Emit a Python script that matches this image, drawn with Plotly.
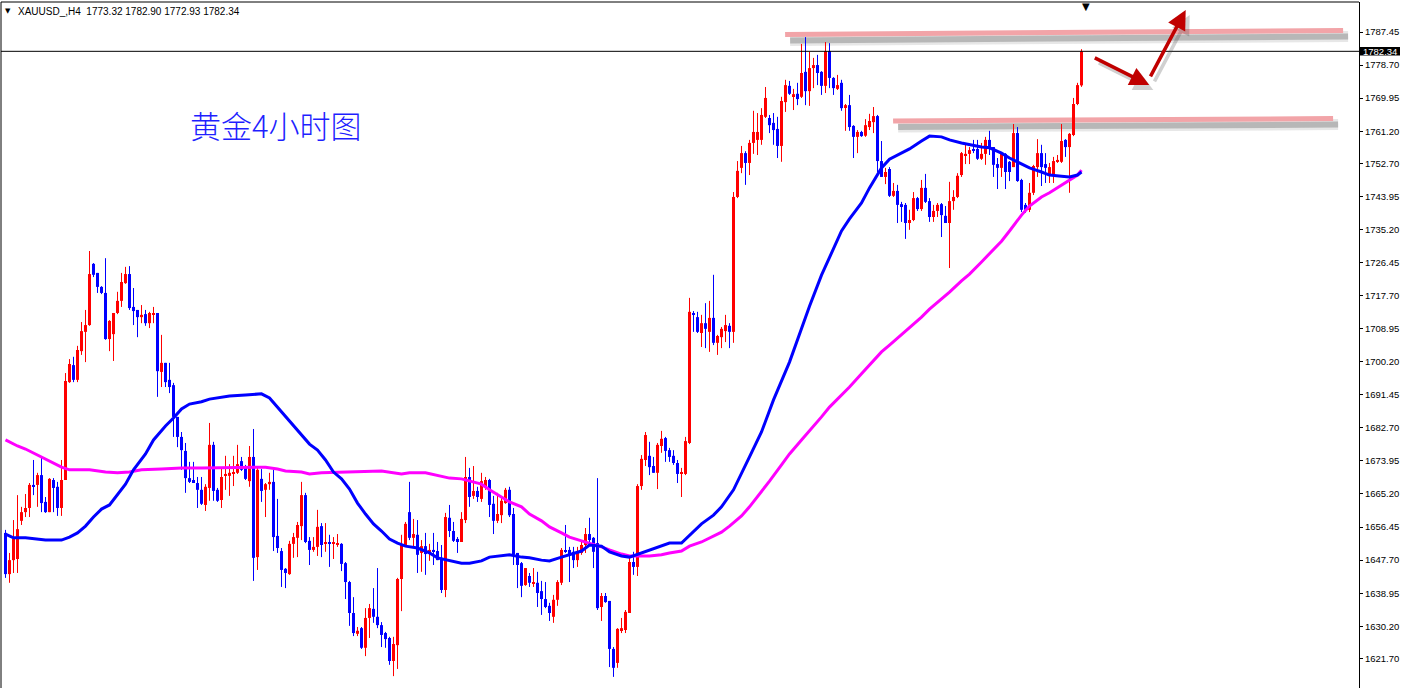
import plotly.graph_objects as go

# ---------------- data (XAUUSD H4) ----------------
opens = [
    1654.9, 1644.0, 1647.7, 1648.0, 1658.1, 1660.4, 1661.5, 1667.6, 1667.6, 1670.2,
    1663.1, 1660.4, 1668.9, 1667.1, 1661.5, 1668.9, 1694.8, 1699.3, 1695.4, 1703.0,
    1708.1, 1709.9, 1726.1, 1723.7, 1720.0, 1718.4, 1706.2, 1707.5, 1713.1, 1716.3,
    1721.0, 1723.4, 1714.7, 1713.9, 1712.0, 1712.8, 1710.4, 1712.8, 1713.1, 1697.5,
    1699.9, 1695.4, 1694.0, 1685.6, 1680.3, 1676.6, 1669.4, 1668.9, 1668.1, 1666.3,
    1662.3, 1666.8, 1678.2, 1666.3, 1663.6, 1670.0, 1670.0, 1670.5, 1670.8, 1673.9,
    1672.3, 1668.6, 1675.0, 1648.5, 1669.2, 1666.3, 1667.8, 1668.4, 1654.1, 1650.1,
    1645.4, 1644.0, 1652.0, 1653.6, 1656.7, 1664.9, 1652.8, 1650.4, 1651.2, 1656.7,
    1652.0, 1652.2, 1652.0, 1651.7, 1652.0, 1646.9, 1641.9, 1633.7, 1628.2, 1629.7,
    1624.5, 1632.4, 1634.8, 1632.7, 1630.5, 1628.4, 1627.1, 1621.0, 1625.2, 1642.7,
    1651.7, 1660.4, 1653.6, 1654.4, 1649.6, 1651.4, 1649.9, 1650.4, 1650.1, 1648.3,
    1639.8, 1658.9, 1655.4, 1653.3, 1652.5, 1658.3, 1669.7, 1664.7, 1666.0, 1663.9,
    1666.8, 1668.9, 1662.6, 1658.1, 1659.6, 1662.8, 1666.3, 1659.9, 1649.6, 1646.9,
    1641.1, 1643.5, 1641.4, 1641.7, 1639.5, 1637.4, 1635.6, 1632.7, 1637.2, 1641.7,
    1650.1, 1650.4, 1649.9, 1647.7, 1649.6, 1651.7, 1654.6, 1653.6, 1652.2, 1635.3,
    1638.2, 1636.9, 1624.2, 1620.5, 1629.2, 1629.2, 1633.7, 1647.2, 1645.9, 1667.3,
    1674.2, 1675.3, 1672.6, 1670.8, 1677.9, 1680.0, 1676.8, 1675.3, 1673.4, 1670.5,
    1670.5, 1678.7, 1713.1, 1712.0, 1707.8, 1710.4, 1708.1, 1711.8, 1705.2, 1706.7,
    1708.3, 1709.7, 1708.1, 1743.8, 1751.5, 1755.4, 1752.8, 1758.1, 1758.9, 1758.9,
    1765.0, 1764.7, 1763.4, 1761.8, 1757.3, 1768.9, 1773.2, 1770.5, 1771.1, 1770.3,
    1776.9, 1771.8, 1777.9, 1778.7, 1776.9, 1773.2, 1782.4, 1775.3, 1772.4, 1774.0,
    1767.6, 1768.1, 1762.6, 1759.7, 1761.0, 1760.0, 1762.3, 1763.6, 1765.2, 1753.3,
    1749.1, 1751.2, 1744.1, 1745.4, 1741.9, 1741.7, 1736.9, 1737.7, 1743.5, 1740.6,
    1746.2, 1742.7, 1738.5, 1740.1, 1741.9, 1738.8, 1736.9, 1742.7, 1743.8, 1749.6,
    1754.9, 1755.2, 1756.2, 1756.5, 1753.9, 1755.2, 1758.9, 1757.0, 1752.5, 1751.5,
    1755.2, 1753.1, 1751.7, 1760.7, 1748.3, 1741.7, 1740.4, 1744.9, 1751.7, 1755.4,
    1752.5, 1749.4, 1749.4, 1753.1, 1753.1, 1758.9, 1757.0, 1760.2, 1768.4, 1773.32,
]
highs = [
    1655.7, 1649.6, 1658.3, 1664.9, 1661.8, 1665.2, 1668.1, 1674.2, 1670.8, 1675.0,
    1664.4, 1669.4, 1669.4, 1668.4, 1674.2, 1697.2, 1700.9, 1701.5, 1704.4, 1710.7,
    1713.9, 1729.5, 1726.3, 1723.7, 1720.2, 1727.6, 1711.2, 1713.1, 1718.7, 1723.7,
    1725.3, 1725.5, 1719.7, 1713.9, 1715.2, 1713.9, 1713.4, 1714.7, 1713.1, 1707.3,
    1699.9, 1699.9, 1694.6, 1685.6, 1681.6, 1678.7, 1673.7, 1673.7, 1669.7, 1669.7,
    1667.8, 1684.0, 1679.0, 1666.8, 1672.3, 1675.3, 1673.1, 1675.3, 1678.2, 1675.0,
    1672.9, 1677.9, 1682.4, 1672.3, 1671.8, 1668.1, 1670.8, 1671.6, 1663.9, 1650.9,
    1645.6, 1652.8, 1654.9, 1657.8, 1668.4, 1665.5, 1653.8, 1653.8, 1661.0, 1657.5,
    1657.5, 1654.4, 1653.8, 1654.6, 1652.2, 1647.2, 1642.2, 1637.9, 1630.0, 1630.0,
    1635.0, 1636.1, 1640.3, 1645.6, 1631.3, 1628.7, 1627.4, 1627.4, 1643.0, 1654.4,
    1657.8, 1668.4, 1658.6, 1658.3, 1653.0, 1654.9, 1652.0, 1654.9, 1652.5, 1651.7,
    1660.2, 1662.3, 1657.8, 1653.8, 1660.4, 1675.0, 1672.1, 1672.6, 1667.1, 1670.8,
    1669.7, 1669.2, 1664.7, 1665.5, 1664.4, 1666.8, 1667.1, 1661.5, 1649.6, 1647.2,
    1645.6, 1644.3, 1645.6, 1644.6, 1642.2, 1641.9, 1636.4, 1638.5, 1642.4, 1650.9,
    1657.0, 1651.2, 1651.2, 1651.2, 1653.0, 1656.2, 1658.9, 1653.8, 1669.4, 1639.0,
    1639.0, 1636.9, 1624.7, 1629.7, 1632.4, 1634.5, 1648.3, 1649.9, 1667.8, 1675.5,
    1681.6, 1679.0, 1675.0, 1678.7, 1681.9, 1680.3, 1677.4, 1676.8, 1674.2, 1672.1,
    1680.3, 1717.1, 1713.6, 1713.4, 1712.6, 1715.7, 1716.3, 1723.2, 1707.3, 1709.4,
    1712.6, 1710.4, 1745.1, 1753.3, 1757.3, 1755.9, 1758.9, 1766.6, 1766.0, 1767.3,
    1772.9, 1765.5, 1766.0, 1765.0, 1770.3, 1774.8, 1774.5, 1772.4, 1774.0, 1784.3,
    1786.1, 1782.2, 1780.6, 1781.4, 1777.1, 1784.8, 1784.5, 1775.5, 1776.1, 1774.8,
    1768.4, 1770.8, 1762.8, 1761.5, 1761.3, 1764.4, 1765.8, 1767.6, 1765.5, 1758.6,
    1751.5, 1751.7, 1747.5, 1747.0, 1742.5, 1742.2, 1740.4, 1745.1, 1743.8, 1748.3,
    1749.9, 1743.5, 1741.7, 1742.2, 1742.2, 1741.4, 1747.8, 1745.6, 1750.1, 1755.7,
    1757.6, 1757.0, 1758.9, 1758.9, 1758.1, 1759.7, 1761.3, 1757.0, 1754.1, 1755.7,
    1755.4, 1753.3, 1763.1, 1762.3, 1748.6, 1742.2, 1747.5, 1752.3, 1759.1, 1757.6,
    1755.4, 1752.8, 1754.4, 1754.9, 1763.1, 1759.1, 1760.7, 1770.0, 1774.0, 1782.90,
]
lows = [
    1643.0, 1641.7, 1644.3, 1644.3, 1657.0, 1659.1, 1659.1, 1664.9, 1661.8, 1660.4,
    1660.2, 1660.4, 1660.4, 1659.4, 1659.4, 1668.9, 1694.6, 1694.8, 1694.8, 1702.0,
    1700.1, 1709.7, 1722.6, 1718.4, 1718.1, 1706.0, 1703.0, 1700.4, 1712.8, 1714.7,
    1720.8, 1713.9, 1709.9, 1706.7, 1710.4, 1709.7, 1709.1, 1710.4, 1690.9, 1693.5,
    1693.5, 1691.9, 1680.3, 1677.6, 1671.6, 1665.5, 1668.1, 1668.1, 1661.5, 1662.3,
    1660.7, 1663.4, 1663.4, 1663.1, 1661.5, 1666.3, 1664.7, 1667.3, 1670.5, 1671.3,
    1668.9, 1667.1, 1642.2, 1645.1, 1663.1, 1659.1, 1666.3, 1650.1, 1649.6, 1640.6,
    1640.3, 1643.8, 1648.3, 1648.5, 1653.0, 1652.2, 1646.4, 1649.9, 1648.8, 1648.5,
    1649.9, 1645.9, 1648.0, 1651.2, 1644.8, 1637.4, 1630.3, 1627.6, 1627.6, 1624.2,
    1622.3, 1627.1, 1631.1, 1629.7, 1624.7, 1624.5, 1620.0, 1617.0, 1618.9, 1634.2,
    1651.2, 1653.0, 1651.2, 1644.3, 1644.6, 1643.8, 1647.5, 1646.4, 1647.7, 1639.0,
    1637.9, 1653.8, 1652.5, 1649.6, 1652.5, 1657.5, 1661.8, 1663.9, 1663.1, 1663.1,
    1666.3, 1659.1, 1654.6, 1657.5, 1657.5, 1662.6, 1659.1, 1646.4, 1640.3, 1637.9,
    1640.9, 1640.6, 1640.6, 1635.3, 1633.2, 1635.0, 1631.6, 1631.1, 1635.6, 1641.1,
    1649.6, 1641.9, 1645.6, 1645.9, 1649.1, 1649.6, 1651.7, 1645.6, 1634.5, 1631.6,
    1636.4, 1619.4, 1616.8, 1619.2, 1628.4, 1628.4, 1633.7, 1643.8, 1643.5, 1666.3,
    1672.6, 1670.2, 1670.8, 1666.5, 1676.1, 1673.7, 1673.7, 1672.9, 1668.1, 1664.4,
    1670.2, 1678.4, 1708.1, 1707.8, 1704.1, 1703.8, 1702.8, 1704.6, 1702.0, 1703.8,
    1705.4, 1703.8, 1705.2, 1743.5, 1750.1, 1747.0, 1749.6, 1755.2, 1754.9, 1757.6,
    1764.7, 1760.7, 1757.6, 1754.1, 1753.1, 1766.3, 1770.8, 1766.8, 1768.1, 1770.0,
    1768.1, 1767.9, 1772.6, 1773.4, 1770.8, 1771.3, 1772.6, 1770.8, 1772.1, 1766.6,
    1761.3, 1761.3, 1754.1, 1755.4, 1759.7, 1759.7, 1761.5, 1760.7, 1750.4, 1749.1,
    1747.2, 1743.8, 1743.8, 1736.9, 1737.2, 1732.7, 1735.1, 1737.4, 1740.1, 1740.1,
    1742.2, 1737.2, 1737.2, 1738.5, 1733.2, 1736.9, 1725.0, 1740.4, 1743.5, 1749.1,
    1752.5, 1752.5, 1755.4, 1753.6, 1753.6, 1752.3, 1754.9, 1749.1, 1745.9, 1749.1,
    1745.9, 1748.0, 1751.7, 1747.8, 1739.8, 1739.6, 1739.8, 1744.3, 1749.1, 1746.7,
    1747.5, 1747.5, 1747.5, 1752.8, 1752.8, 1754.4, 1744.9, 1759.9, 1768.1, 1772.93,
]
closes = [
    1644.0, 1647.7, 1653.3, 1655.9, 1660.4, 1661.5, 1667.6, 1667.3, 1670.2, 1662.8,
    1660.4, 1669.2, 1666.8, 1661.5, 1668.9, 1695.1, 1699.6, 1695.4, 1703.3, 1708.3,
    1709.9, 1723.4, 1723.2, 1720.0, 1718.4, 1706.2, 1711.0, 1713.1, 1716.3, 1721.3,
    1723.4, 1714.4, 1713.6, 1712.0, 1712.6, 1710.4, 1713.1, 1713.1, 1697.7, 1699.9,
    1694.8, 1693.5, 1685.6, 1680.3, 1676.8, 1669.4, 1668.4, 1668.1, 1666.3, 1662.6,
    1667.1, 1678.2, 1666.0, 1663.4, 1669.7, 1670.5, 1670.8, 1671.0, 1673.1, 1671.6,
    1669.2, 1675.0, 1648.3, 1671.6, 1666.0, 1667.8, 1668.4, 1653.8, 1650.9, 1645.1,
    1644.3, 1652.0, 1653.8, 1657.0, 1664.9, 1652.5, 1650.4, 1651.2, 1656.5, 1651.7,
    1652.2, 1652.0, 1652.2, 1652.2, 1646.7, 1641.9, 1633.7, 1628.4, 1629.0, 1624.5,
    1632.4, 1635.0, 1632.7, 1630.5, 1627.9, 1626.8, 1621.0, 1625.5, 1642.7, 1651.7,
    1657.3, 1653.6, 1654.6, 1649.1, 1651.4, 1649.3, 1650.4, 1649.9, 1647.7, 1639.8,
    1659.1, 1655.4, 1652.8, 1652.5, 1658.6, 1669.7, 1664.4, 1666.0, 1664.4, 1668.6,
    1668.9, 1662.3, 1658.1, 1659.9, 1663.4, 1666.3, 1659.6, 1649.1, 1646.4, 1640.9,
    1645.6, 1641.7, 1641.7, 1639.0, 1637.4, 1635.3, 1633.7, 1637.2, 1641.9, 1650.4,
    1649.9, 1649.1, 1647.7, 1649.6, 1651.7, 1654.6, 1653.0, 1649.9, 1635.0, 1638.2,
    1636.6, 1624.2, 1619.2, 1629.5, 1629.7, 1634.0, 1647.2, 1645.9, 1667.3, 1674.5,
    1680.8, 1672.3, 1670.8, 1678.2, 1679.8, 1676.6, 1675.0, 1673.4, 1670.5, 1670.8,
    1679.2, 1713.4, 1712.6, 1708.1, 1710.4, 1708.9, 1711.8, 1705.2, 1707.0, 1708.9,
    1709.9, 1708.1, 1743.8, 1750.7, 1755.4, 1752.8, 1758.1, 1761.0, 1761.0, 1765.5,
    1770.0, 1762.8, 1761.5, 1757.3, 1769.2, 1773.4, 1771.1, 1771.0, 1769.7, 1776.6,
    1771.8, 1777.9, 1778.7, 1776.6, 1773.2, 1782.4, 1775.3, 1772.6, 1773.4, 1767.3,
    1768.1, 1762.3, 1759.7, 1761.0, 1759.9, 1762.8, 1763.9, 1765.2, 1753.3, 1749.1,
    1750.4, 1744.1, 1745.4, 1741.7, 1741.4, 1736.9, 1737.7, 1743.5, 1740.6, 1746.2,
    1742.5, 1738.5, 1740.1, 1741.7, 1739.0, 1736.9, 1742.7, 1743.8, 1749.4, 1755.4,
    1755.2, 1756.2, 1756.0, 1753.9, 1755.2, 1758.9, 1757.0, 1752.3, 1751.5, 1755.2,
    1750.4, 1750.4, 1760.7, 1748.0, 1740.4, 1740.4, 1744.9, 1752.0, 1755.4, 1751.7,
    1751.5, 1751.7, 1753.3, 1753.6, 1758.6, 1757.0, 1760.5, 1768.4, 1773.4, 1782.34,
]

# moving averages, sampled at bar indices
ma_fast_idx = [0, 2, 5, 10, 14, 16, 18, 20, 22, 24, 26, 28, 30, 32, 35, 37, 40, 42, 44, 46,
               49, 51, 54, 56, 60, 64, 66, 68, 70, 72, 74, 76, 78, 80, 82, 84, 86, 88, 90, 92,
               94, 96, 98, 100, 103, 106, 108, 111, 114, 116, 119, 121, 124, 126, 129, 131, 134, 136, 139, 141,
               144, 146, 149, 151, 154, 156, 159, 161, 164, 166, 169, 172, 174, 177, 179, 182, 184, 186, 189, 192,
               196, 199, 201, 204, 206, 209, 211, 214, 216, 219, 221, 224, 226, 229, 231, 234, 236, 239, 241, 244,
               246, 249, 251, 254, 256, 259, 261, 264, 266, 268, 269]
ma_fast = [1654.6, 1653.6, 1653.6, 1653.0, 1653.0, 1653.8, 1654.9, 1656.7, 1659.1, 1661.2,
           1662.3, 1664.9, 1667.8, 1671.6, 1675.8, 1679.5, 1683.2, 1685.3, 1687.7, 1689.0,
           1689.6, 1690.3, 1690.9, 1691.1, 1691.4, 1691.7, 1690.6, 1688.2, 1685.8, 1683.5,
           1681.1, 1678.4, 1676.8, 1674.2, 1671.0, 1669.2, 1666.5, 1662.8, 1659.9, 1657.3,
           1655.4, 1653.3, 1652.2, 1651.4, 1650.9, 1649.6, 1648.3, 1647.5, 1646.9, 1646.9,
           1647.5, 1648.5, 1648.8, 1649.1, 1648.5, 1648.3, 1647.7, 1647.5, 1648.5, 1649.1,
           1650.1, 1651.7, 1651.4, 1649.9, 1648.8, 1648.5, 1649.6, 1650.4, 1651.4, 1652.2,
           1652.2, 1655.1, 1657.3, 1659.6, 1661.8, 1666.3, 1670.5, 1675.0, 1681.6, 1690.1,
           1700.1, 1708.9, 1714.9, 1723.1, 1727.6, 1734.8, 1738.0, 1742.2, 1746.2, 1751.5,
           1753.8, 1755.4, 1756.5, 1758.6, 1759.9, 1759.7, 1758.9, 1758.1, 1757.6, 1757.0,
           1756.8, 1755.4, 1754.1, 1752.5, 1751.5, 1750.4, 1749.6, 1749.3, 1749.1, 1749.6, 1750.4]

ma_slow_idx = [0, 3, 5, 8, 11, 14, 16, 21, 25, 28, 31, 34, 39, 44, 49, 56, 61, 65, 68, 70,
               74, 76, 79, 84, 94, 99, 101, 105, 108, 111, 114, 116, 119, 121, 124, 126, 129, 131, 134, 136,
               139, 141, 144, 146, 149, 151, 154, 156, 159, 161, 164, 166, 169, 171, 174, 176, 179, 181, 184, 186,
               189, 191, 194, 196, 199, 201, 204, 206, 209, 211, 214, 216, 219, 221, 224, 226, 229, 231, 234, 236,
               239, 241, 244, 246, 249, 251, 254, 256, 259, 261, 264, 266, 268, 269]
ma_slow = [1679.5, 1677.9, 1677.1, 1675.5, 1673.9, 1672.3, 1671.6, 1671.6, 1671.0, 1670.8,
           1671.0, 1671.6, 1671.8, 1672.1, 1672.1, 1672.1, 1672.3, 1672.3, 1671.8, 1671.3,
           1671.0, 1670.5, 1670.8, 1671.0, 1671.3, 1670.5, 1670.8, 1670.8, 1670.0, 1669.4,
           1669.2, 1668.6, 1667.8, 1666.3, 1664.4, 1663.1, 1661.8, 1659.9, 1658.1, 1656.5,
           1654.9, 1653.8, 1652.8, 1652.2, 1651.2, 1650.4, 1649.3, 1648.8, 1648.8, 1648.8,
           1649.1, 1649.6, 1650.1, 1651.4, 1652.5, 1653.6, 1655.1, 1656.7, 1659.4, 1661.8,
           1665.7, 1668.6, 1672.9, 1675.8, 1679.5, 1681.9, 1685.6, 1688.2, 1691.4, 1693.5,
           1697.0, 1699.3, 1702.8, 1704.6, 1707.3, 1709.1, 1712.0, 1714.1, 1716.8, 1718.6,
           1721.6, 1723.4, 1726.6, 1728.7, 1732.1, 1734.8, 1739.0, 1741.4, 1743.8, 1744.9,
           1747.0, 1748.3, 1749.6, 1750.9]

ytick_vals = [1787.45, 1778.70, 1769.95, 1761.20, 1752.70, 1743.95, 1735.20, 1726.45, 1717.70,
              1708.95, 1700.20, 1691.45, 1682.70, 1673.95, 1665.20, 1656.45, 1647.70, 1638.95,
              1630.20, 1621.70]
ytick_text = ["%.2f" % v for v in ytick_vals]

last_price = 1782.34
header_text = "XAUUSD_,H4\u00a0\u00a01773.32 1782.90 1772.93 1782.34"
title_text = "黄金4小时图"

# hand-drawn resistance bars: (bar index, price) endpoints
res_upper_x = [194.9, 334.4]
res_upper_y = [1786.8, 1787.85]
res_lower_x = [221.9, 331.9]
res_lower_y = [1763.9, 1764.55]
# arrows: tip (bar index, price) and tail offset in pixels
arrow1 = dict(x=285.95, y=1773.4, ax=-56, ay=-28)
arrow2 = dict(x=295.05, y=1793.3, ax=-36, ay=68)

# ---------------- geometry ----------------
W, H = 1403, 688
ML, MR, MT, MB = 1, 44, 2, 0
PW, PH = W - ML - MR, H - MT - MB
X0 = -1.125
X1 = X0 + PW / 4.0
Y1 = 1795.39
Y0 = 1613.86
PX_PER_PRICE = PH / (Y1 - Y0)


def px_x(p):
    return (p - ML) / PW


def px_y(p):
    return 1 - (p - MT) / PH


n = len(opens)
up_i, dn_i = [], []
for i in range(n):
    (up_i if closes[i] >= opens[i] else dn_i).append(i)

min_body = 1.0 / PX_PER_PRICE


def wick_xy(idx):
    xs, ys = [], []
    for i in idx:
        xs += [i, i, None]
        ys += [lows[i], highs[i], None]
    return xs, ys


def body(idx):
    base = [min(opens[i], closes[i]) for i in idx]
    hgt = [max(abs(closes[i] - opens[i]), min_body) for i in idx]
    return base, hgt


RED = "#ff0000"
BLUE = "#0000ff"

fig = go.Figure()
for idx, col in ((up_i, RED), (dn_i, BLUE)):
    wx, wy = wick_xy(idx)
    fig.add_trace(go.Scatter(x=wx, y=wy, mode="lines", line=dict(color=col, width=1),
                             hoverinfo="skip", showlegend=False))
for idx, col in ((up_i, RED), (dn_i, BLUE)):
    b, h = body(idx)
    fig.add_trace(go.Bar(x=idx, y=h, base=b, width=0.75, marker=dict(color=col, line=dict(width=0)),
                         hoverinfo="skip", showlegend=False))

fig.add_trace(go.Scatter(x=ma_slow_idx, y=ma_slow, mode="lines",
                         line=dict(color="#ff00ff", width=3), hoverinfo="skip", showlegend=False))
fig.add_trace(go.Scatter(x=ma_fast_idx, y=ma_fast, mode="lines",
                         line=dict(color="#0000ff", width=3), hoverinfo="skip", showlegend=False))

shapes = []
# shadows + pink resistance bars
dxs, dys = 5 / 4.0, -6 / PX_PER_PRICE
for xs, ys in ((res_upper_x, res_upper_y), (res_lower_x, res_lower_y)):
    shapes.append(dict(type="line", xref="x", yref="y", x0=xs[0] + dxs, x1=xs[1] + dxs,
                       y0=ys[0] + dys, y1=ys[1] + dys, line=dict(color="rgba(60,60,60,0.12)", width=11),
                       layer="below"))
    shapes.append(dict(type="line", xref="x", yref="y", x0=xs[0] + dxs, x1=xs[1] + dxs,
                       y0=ys[0] + dys, y1=ys[1] + dys, line=dict(color="rgba(60,60,60,0.28)", width=6),
                       layer="below"))
    shapes.append(dict(type="line", xref="x", yref="y", x0=xs[0], x1=xs[1], y0=ys[0], y1=ys[1],
                       line=dict(color="#f2a4a8", width=5), layer="below"))
# bid line
shapes.append(dict(type="line", xref="paper", yref="y", x0=0, x1=1, y0=last_price, y1=last_price,
                   line=dict(color="black", width=1)))
# frame (top, left)
shapes.append(dict(type="line", xref="paper", yref="paper", x0=0, x1=1, y0=1, y1=1,
                   line=dict(color="black", width=1)))
shapes.append(dict(type="line", xref="paper", yref="paper", x0=0, x1=0, y0=0, y1=1,
                   line=dict(color="black", width=1)))
# price label box
half = 4.2 / PX_PER_PRICE
shapes.append(dict(type="rect", xref="paper", yref="y", x0=px_x(1360), x1=px_x(1400),
                   y0=last_price - half, y1=last_price + half, fillcolor="black",
                   line=dict(width=0)))

annotations = []
for a in (arrow1, arrow2):
    annotations.append(dict(x=a["x"] + 1.0, y=a["y"] - 5 / PX_PER_PRICE, ax=a["ax"], ay=a["ay"],
                            xref="x", yref="y", text="", showarrow=True, arrowhead=2, arrowsize=1.1,
                            arrowwidth=3.5, arrowcolor="rgba(70,70,70,0.25)", standoff=0))
for a in (arrow1, arrow2):
    annotations.append(dict(x=a["x"], y=a["y"], ax=a["ax"], ay=a["ay"], xref="x", yref="y", text="",
                            showarrow=True, arrowhead=2, arrowsize=1.1, arrowwidth=3.5,
                            arrowcolor="#c00000", standoff=0))
annotations.append(dict(x=px_x(16), y=px_y(11), xref="paper", yref="paper", text=header_text,
                        showarrow=False, xanchor="left", yanchor="middle",
                        font=dict(family="Liberation Sans", size=10, color="black")))
annotations.append(dict(x=px_x(7.5), y=px_y(11), xref="paper", yref="paper", text="▼",
                        showarrow=False, xanchor="center", yanchor="middle",
                        font=dict(family="DejaVu Sans", size=7, color="black")))
annotations.append(dict(x=270.1, y=1, xref="x", yref="paper", text="▼", showarrow=False,
                        xanchor="center", yanchor="top", yshift=3,
                        font=dict(family="DejaVu Sans", size=10, color="black")))
annotations.append(dict(x=px_x(276), y=px_y(124), xref="paper", yref="paper", text=title_text,
                        showarrow=False, xanchor="center", yanchor="middle",
                        font=dict(family="Noto Sans CJK SC", size=31, color="#1f1fff", weight=300)))
annotations.append(dict(x=px_x(1380), y=last_price, xref="paper", yref="y", text="%.2f" % last_price,
                        showarrow=False, xanchor="center", yanchor="middle",
                        font=dict(family="Liberation Sans", size=9.5, color="white")))

fig.update_layout(
    width=W, height=H, autosize=False,
    margin=dict(l=ML, r=MR, t=MT, b=MB, pad=0),
    paper_bgcolor="white", plot_bgcolor="white",
    barmode="overlay", showlegend=False,
    shapes=shapes, annotations=annotations,
    xaxis=dict(range=[X0, X1], visible=False, fixedrange=True),
    yaxis=dict(range=[Y0, Y1], side="right", tickmode="array", tickvals=ytick_vals,
               ticktext=ytick_text, ticks="outside", ticklen=3, tickwidth=1, tickcolor="black",
               showline=True, linecolor="black", linewidth=1, showgrid=False, zeroline=False,
               tickfont=dict(family="Liberation Sans", size=9.5, color="black"), fixedrange=True),
)

fig.write_html("out.html", config={"displayModeBar": False},
               post_script="document.body.style.margin='0';document.body.style.overflow='hidden';")
